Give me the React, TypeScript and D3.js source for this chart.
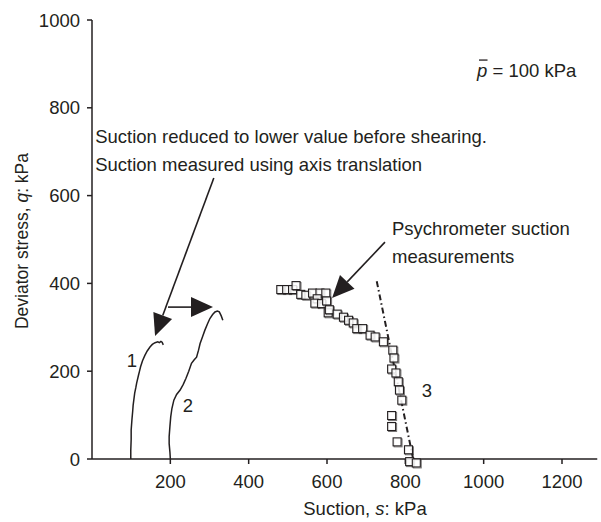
import React from "react";
import * as d3 from "d3";

// suction (kPa) vs deviator stress (kPa)
const curve1 = [
  [99, 0], [99, 20], [100, 45], [100, 66], [102, 90], [104, 110], [105, 122], [109, 150],
  [112, 163], [114, 173], [119, 192], [121, 199], [124, 210], [129, 224], [135, 236],
  [141, 246], [148, 255], [154, 261], [161, 265], [168, 267], [172, 265], [176, 268],
  [179, 266], [182, 260],
];
const curve2 = [
  [200, 0], [199, 15], [197, 35], [197, 51], [199, 75], [201, 96], [204, 115], [209, 134],
  [216, 147], [225, 157], [233, 170], [240, 184], [247, 200], [254, 218], [261, 226],
  [267, 232], [272, 248], [276, 263], [282, 278], [288, 293], [295, 308], [301, 320],
  [308, 329], [314, 335], [320, 337], [325, 335], [330, 326], [334, 316],
];
const psychrometer = [
  [482, 386], [497, 386], [512, 386], [521, 395], [533, 375], [546, 373], [563, 378],
  [582, 378], [597, 378], [575, 365], [569, 355], [586, 354], [599, 360], [603, 333],
  [606, 340], [626, 330], [642, 323], [655, 316], [667, 310], [676, 297], [691, 297],
  [710, 282], [723, 278], [744, 267], [768, 248], [771, 230], [765, 205], [776, 196],
  [782, 176], [785, 157], [791, 134], [765, 99], [765, 74], [779, 39], [808, 21],
  [811, -6], [828, -9],
];
const trend3 = [[727, 405], [820, 0]];

const yTicks = [0, 200, 400, 600, 800, 1000];
const xTicks = [200, 400, 600, 800, 1000, 1200];

// annotation arrows: [from, to] in data units
const arrows = [
  [[311, 640], [161, 280]],
  [[194, 346], [309, 346]],
  [[748, 494], [613, 367]],
];

export default function App() {
  const x = d3.scaleLinear().domain([0, 1200]).range([92, 562]);
  const y = d3.scaleLinear().domain([0, 1000]).range([459, 20]);
  const line = d3.line<number[]>().x((d) => x(d[0])).y((d) => y(d[1]));
  const ink = "#231f20";
  const font = "Liberation Sans, Arial, sans-serif";
  const fs = 18.5;

  const arrowHead = (a: number[][]) => {
    const x1 = x(a[0][0]), y1 = y(a[0][1]), x2 = x(a[1][0]), y2 = y(a[1][1]);
    const ang = Math.atan2(y2 - y1, x2 - x1);
    const len = 22, hw = 10;
    const bx = x2 - len * Math.cos(ang), by = y2 - len * Math.sin(ang);
    const px = -Math.sin(ang) * hw, py = Math.cos(ang) * hw;
    return (
      <g>
        <line x1={x1} y1={y1} x2={bx} y2={by} stroke={ink} strokeWidth={1.6} />
        <path d={`M${x2},${y2}L${bx + px},${by + py}L${bx - px},${by - py}Z`} fill={ink} />
      </g>
    );
  };

  return (
    <svg width={601} height={522} style={{ position: "absolute", left: 0, top: 0, background: "#fff" }}
      fontFamily={font} fontSize={fs} fill={ink}>
      {/* axes */}
      <line x1={x(0)} x2={x(1290)} y1={y(0)} y2={y(0)} stroke={ink} strokeWidth={1.5} />
      <line x1={x(0)} x2={x(0)} y1={y(0)} y2={y(1000)} stroke={ink} strokeWidth={1.5} />
      {yTicks.map((t) => (
        <g key={"y" + t}>
          <line x1={x(0) - 5} x2={x(0)} y1={y(t)} y2={y(t)} stroke={ink} strokeWidth={1.5} />
          <text x={x(0) - 12} y={y(t)} dy="0.36em" textAnchor="end">{t}</text>
        </g>
      ))}
      {xTicks.map((t) => (
        <g key={"x" + t}>
          <line x1={x(t)} x2={x(t)} y1={y(0)} y2={y(0) + 5} stroke={ink} strokeWidth={1.5} />
          <text x={x(t)} y={488} textAnchor="middle">{t}</text>
        </g>
      ))}
      <text x={365} y={515} textAnchor="middle">
        Suction, <tspan fontStyle="italic">s</tspan>: kPa
      </text>
      <text transform={`translate(28,${241}) rotate(-90)`} textAnchor="middle" fontSize={17.5}>
        Deviator stress, <tspan fontStyle="italic">q</tspan>: kPa
      </text>

      {/* curves */}
      <path d={line(curve1) || ""} fill="none" stroke={ink} strokeWidth={1.5} />
      <path d={line(curve2) || ""} fill="none" stroke={ink} strokeWidth={1.5} />
      <path d={line(trend3) || ""} fill="none" stroke={ink} strokeWidth={2} strokeDasharray="6 3 1.5 3" />
      {psychrometer.map((d, i) => (
        <g key={"p" + i}>
          <rect x={x(d[0]) - 3} y={y(d[1]) - 3} width={8} height={8} fill="none" stroke={ink} strokeWidth={1} opacity={0.6} />
          <rect x={x(d[0]) - 4} y={y(d[1]) - 4} width={8} height={8} fill="#fff" fillOpacity={0.85} stroke={ink} strokeWidth={1.1} />
        </g>
      ))}

      {/* annotations */}
      {arrows.map((a, i) => <React.Fragment key={"a" + i}>{arrowHead(a)}</React.Fragment>)}
      <text x={x(8)} y={y(720)}>Suction reduced to lower value before shearing.</text>
      <text x={x(8)} y={y(656)}>Suction measured using axis translation</text>
      <text x={x(766)} y={y(510)}>Psychrometer suction</text>
      <text x={x(766)} y={y(447)}>measurements</text>
      <text x={x(983)} y={y(870)}>
        <tspan fontStyle="italic">p</tspan>{"\u00a0= 100 kPa"}
      </text>
      <line x1={x(983) + 2} x2={x(983) + 10.5} y1={y(870) - 17} y2={y(870) - 17} stroke={ink} strokeWidth={1.3} />
      <text x={x(89)} y={y(210)}>1</text>
      <text x={x(232)} y={y(107)}>2</text>
      <text x={x(842)} y={y(141)}>3</text>
    </svg>
  );
}
